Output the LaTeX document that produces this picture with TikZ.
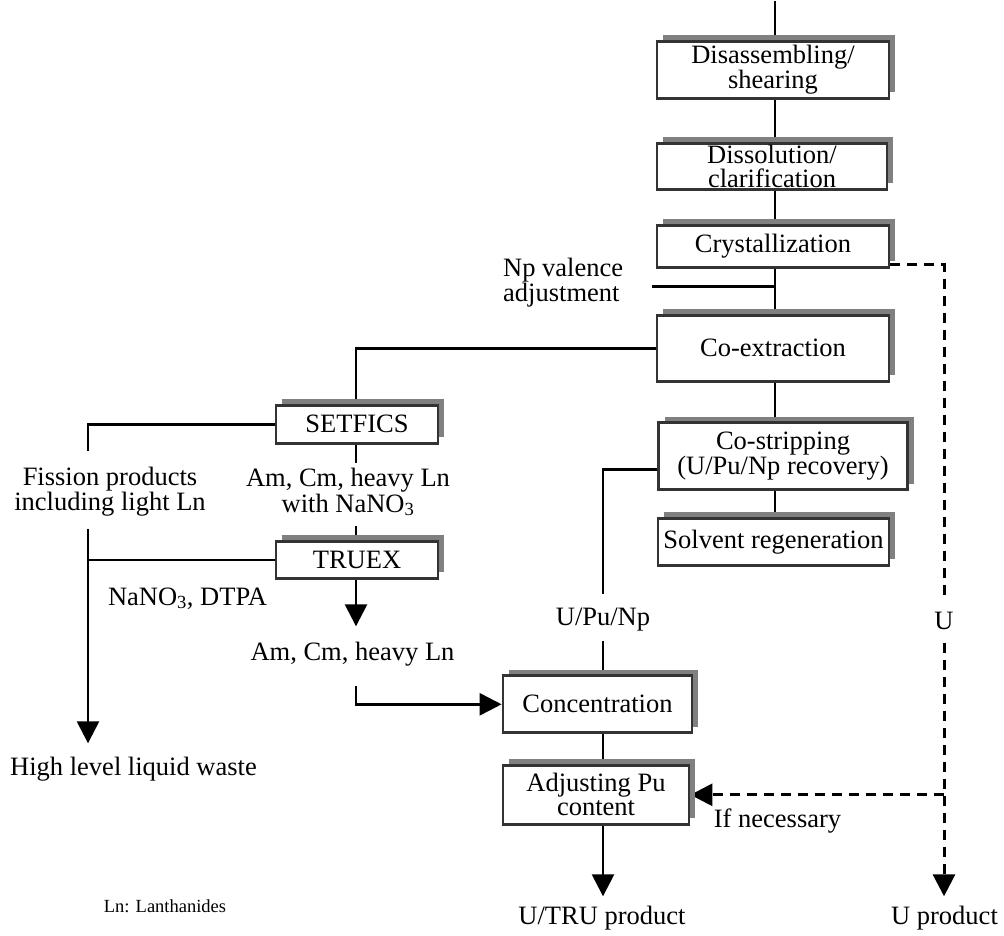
\documentclass[tikz,border=0pt]{standalone}
\usepackage{fontspec}
\setmainfont{Liberation Serif}
\usetikzlibrary{arrows.meta,shadows,backgrounds}
\newcommand\mainfs{\fontsize{26.5}{24}\selectfont}
\newcommand\smallfs{\fontsize{18.5}{20}\selectfont}
\begin{document}
\begin{tikzpicture}[x=1pt,y=-1pt,
 proc/.style={draw=black!80, line width=2.8pt, fill=white, inner sep=0pt, align=center, font=\mainfs,
   drop shadow={shadow xshift=6pt, shadow yshift=6pt, fill=black!50, opacity=1}},
 lbl/.style={inner sep=0pt, align=center, font=\mainfs},
 conn/.style={line width=2.6pt},
 dconn/.style={line width=3pt, dash pattern=on 10pt off 7pt},
 tip/.style={-{Triangle[width=22pt,length=22pt]}}
]
\begin{scope}[on background layer]
\path[use as bounding box, fill=white] (0,0) rectangle (1004,934);
\end{scope}

% process boxes
\node[proc, minimum width=232pt, minimum height=57pt] (dis) at (773,68.5) {Disassembling/\\shearing};
\node[proc, minimum width=230pt, minimum height=46pt] (dsl) at (772,165) {Dissolution/\\clarification};
\node[proc, minimum width=232pt, minimum height=42pt] (cry) at (773,245) {Crystallization};
\node[proc, minimum width=232pt, minimum height=66pt] (coe) at (773,347) {Co-extraction};
\node[proc, minimum width=249pt, minimum height=67pt] (cos) at (783,455) {Co-stripping\\(U/Pu/Np recovery)};
\node[proc, minimum width=231pt, minimum height=47pt] (sol) at (773.5,540.5) {Solvent regeneration};
\node[proc, minimum width=162pt, minimum height=38pt] (set) at (357,423) {SETFICS};
\node[proc, minimum width=162pt, minimum height=37pt] (tru) at (357,558.5) {TRUEX};
\node[proc, minimum width=189pt, minimum height=57pt] (con) at (597.5,703) {Concentration};
\node[proc, minimum width=186pt, minimum height=59pt] (adj) at (596,793.5) {Adjusting Pu\\content};

% labels
\node[lbl, anchor=west, align=left] (np) at (503,281) {Np valence\\adjustment};
\node[lbl] (fp) at (110,490) {Fission products\\including light Ln};
\node[lbl] (am1) at (348,491) {Am, Cm, heavy Ln\\with NaNO\textsubscript{3}};
\node[lbl] (na) at (187.5,597) {NaNO\textsubscript{3}, DTPA};
\node[lbl] (am2) at (352.5,653) {Am, Cm, heavy Ln};
\node[lbl] (hlw) at (133.5,768) {High level liquid waste};
\node[lbl] (upn) at (603,618) {U/Pu/Np};
\node[lbl] (u) at (944,620) {U};
\node[lbl] (utru) at (602,917) {U/TRU product};
\node[lbl] (uprod) at (944.5,917) {U product};
\node[lbl] (ifn) at (777.5,820) {If necessary};
\node[lbl, font=\smallfs] (ln) at (165,905) {Ln: Lanthanides};

% free ends
\coordinate (top) at (775,0);
\coordinate (npA) at (652,285);
\coordinate (fpT) at (88,450);
\coordinate (fpB) at (88,528);
\coordinate (hlwA) at (88,742);
\coordinate (amT) at (356,462);
\coordinate (amB) at (356,525);
\coordinate (am2A) at (356,625);
\coordinate (am2B) at (356,685);
\coordinate (upnT) at (603,593);
\coordinate (upnB) at (603,640);
\coordinate (utruA) at (603,895);
\coordinate (uC) at (944,263);
\coordinate (uT) at (944,600);
\coordinate (uB) at (944,642);
\coordinate (uA) at (944,895);

\begin{scope}[on background layer]
\draw[conn] (top) -- (dis.north -| top);
\draw[conn] (dis.south -| top) -- (dsl.north -| top);
\draw[conn] (dsl.south -| top) -- (cry.north -| top);
\draw[conn] (cry.south -| top) -- (coe.north -| top);
\draw[conn] (npA) -- (npA -| top);
\draw[conn] (coe.south -| top) -- (cos.north -| top);
\draw[conn] (cos.south -| top) -- (sol.north -| top);
\draw[conn] (coe.west) -| (amT |- set.north);
\draw[conn] (set.west) -| (fpT);
\draw[conn,tip] (fpB) -- (hlwA);
\draw[conn] (tru.west) -- (tru.west -| fpB);
\draw[conn] (set.south -| amT) -- (amT);
\draw[conn] (amB) -- (tru.north -| amB);
\draw[conn,tip] (tru.south -| amB) -- (am2A);
\draw[conn,tip] (am2B) |- (con.west);
\draw[conn] ([yshift=-13pt]cos.west) -| (upnT);
\draw[conn] (upnB) -- (con.north -| upnB);
\draw[conn] (con.south -| upnB) -- (adj.north -| upnB);
\draw[conn,tip] (adj.south -| upnB) -- (utruA);
\draw[dconn] ([yshift=-18pt]cry.east) -- (uC) -- (uT);
\draw[dconn,tip] (uB) -- (uA);
\draw[dconn,tip] (uB |- adj.east) -- (adj.east);
\end{scope}
\end{tikzpicture}
\end{document}
